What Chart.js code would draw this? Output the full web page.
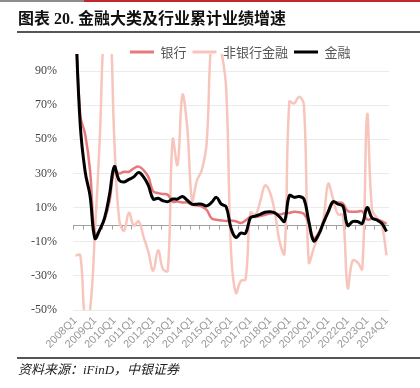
<!DOCTYPE html>
<html><head><meta charset="utf-8">
<script src="https://cdn.jsdelivr.net/npm/chart.js@4"></script>
<style>
html,body{margin:0;padding:0;background:#fff;}
#wrap{position:relative;width:420px;height:388px;overflow:hidden;background:#fff;}
#c{position:absolute;left:0;top:0;}
.bar{position:absolute;}
#title{position:absolute;left:18px;top:11px;line-height:16px;font-weight:bold;font-size:16px;font-family:"Liberation Serif","Noto Sans CJK SC",serif;color:#111;white-space:nowrap;}
#src{position:absolute;left:18px;top:363px;line-height:14px;font-size:13px;font-style:italic;font-family:"Liberation Serif","Noto Sans CJK SC",serif;color:#222;white-space:nowrap;}
</style></head>
<body>
<div id="wrap">
  <canvas id="c" width="420" height="388"></canvas>
  <div class="bar" style="left:0;top:0;width:84px;height:2px;background:#8c8c8c"></div>
  <div class="bar" style="left:84px;top:0;width:336px;height:2px;background:#c0282d"></div>
  <div id="title">图表 20. 金融大类及行业累计业绩增速</div>
  <div class="bar" style="left:17px;top:31px;width:403px;height:1.5px;background:#555"></div>
  <div class="bar" style="left:17px;top:357px;width:403px;height:1.5px;background:#555"></div>
  <div id="src">资料来源：iFinD，中银证券</div>
</div>
<script>
const labels = ["2008Q1","2008Q2","2008Q3","2008Q4","2009Q1","2009Q2","2009Q3","2009Q4",
"2010Q1","2010Q2","2010Q3","2010Q4","2011Q1","2011Q2","2011Q3","2011Q4",
"2012Q1","2012Q2","2012Q3","2012Q4","2013Q1","2013Q2","2013Q3","2013Q4",
"2014Q1","2014Q2","2014Q3","2014Q4","2015Q1","2015Q2","2015Q3","2015Q4",
"2016Q1","2016Q2","2016Q3","2016Q4","2017Q1","2017Q2","2017Q3","2017Q4",
"2018Q1","2018Q2","2018Q3","2018Q4","2019Q1","2019Q2","2019Q3","2019Q4",
"2020Q1","2020Q2","2020Q3","2020Q4","2021Q1","2021Q2","2021Q3","2021Q4",
"2022Q1","2022Q2","2022Q3","2022Q4","2023Q1","2023Q2","2023Q3","2023Q4","2024Q1"];

const bank = [125,64,53,32,-6,-3,3,13.5,
32,30,31,31,33,34,32,28,
19.5,18.5,18,17.5,13.5,13.5,13,13,
11.6,11.2,10.6,8.6,3.7,2.9,2.5,2.2,
2.5,2,1,2.5,4.5,4.5,5,5.7,
6.5,6.7,6,6.7,6.9,7.6,7.3,6.3,
1,-8,-5,1.5,7,13,13,12.5,
8,7.6,7.6,7.8,3,3.5,3,2,0.5];

const nonBank = [-18,-18,-55,-50,-5,50,120,125,
50,3,-3.5,7,-0.5,2,-7,-16,
-27,-15,-26,-27,50,35,76,57,
14,26,32,48,110,115,102,80,
-15,-40,-33,-32,7,5.7,13.5,23,
19,7.6,-10,-17,72,71,75,70,
-22,-14,-6,3,24,15,6,5.7,
-37,-21,-22,-26,64.5,9,4,0,-18];

const finance = [120,58,31,17,-8,-3,4,17.5,
34,26,25,26.5,28,30.5,28,23,
15,15.5,14,13.5,15,15,16.5,14.3,
12,12,12,11,13,16,12,10.5,
-2,-7.5,-5,-5,4,5,6,7.3,
7.6,7,4.5,2,17,16,16.5,15,
2,-9.5,-6,1,7.6,13.5,12,11,
-0.5,1.8,1.8,0.8,10,4,2.7,0.8,-4];

const yTicks = [-50,-30,-10,10,30,50,70,90];
const seriesNames = ["银行","非银行金融","金融"];

const zeroLine = {
  id:'zeroLine',
  beforeDatasetsDraw(chart){
    const {ctx, chartArea:{left,right}, scales:{x,y}} = chart;
    const y0 = Math.round(y.getPixelForValue(0)) + 0.5;
    const step = x.getPixelForValue(1) - x.getPixelForValue(0);
    ctx.save();
    ctx.strokeStyle = '#a0a0a0'; ctx.lineWidth = 1;
    ctx.beginPath(); ctx.moveTo(left,y0); ctx.lineTo(right,y0);
    for (let k=0;k<labels.length;k+=2){
      const px = Math.round(x.getPixelForValue(k) - step/2) + 0.5;
      ctx.moveTo(px,y0); ctx.lineTo(px,y0+4);
    }
    ctx.stroke(); ctx.restore();
  }
};
const legendPlace = {
  id:'legendPlace',
  afterLayout(chart){
    const L = chart.legend; if(!L || !L.lineWidths) return;
    const pad = L.options.labels.padding;
    const start = (L.left + pad + L.right - L.lineWidths[0]) / 2;
    const dx = 130 - start, dy = 39.5 - L.top;
    L.left += dx; L.right += dx; L.top += dy; L.bottom += dy;
  }
};

new Chart(document.getElementById('c'), {
  type:'line',
  data:{
    labels: labels,
    datasets:[
      {label:seriesNames[0], data:bank, borderColor:'#e6797b', backgroundColor:'#e6797b', borderWidth:2.5, pointRadius:0, tension:0.4, order:1},
      {label:seriesNames[1], data:nonBank, borderColor:'#f8c5bd', backgroundColor:'#f8c5bd', borderWidth:2.5, pointRadius:0, tension:0.4, order:2},
      {label:seriesNames[2], data:finance, borderColor:'#000000', backgroundColor:'#000000', borderWidth:3, pointRadius:0, tension:0.4, order:0}
    ]
  },
  options:{
    responsive:false, animation:false,
    layout:{padding:{top:25,right:31,bottom:0,left:0}},
    plugins:{
      tooltip:{enabled:false},
      legend:{
        position:'top',
        labels:{
          boxWidth:24, boxHeight:3, padding:6, color:'#555',
          font:{family:'"Noto Sans CJK SC"', size:13},
          sort:(a,b)=>a.datasetIndex-b.datasetIndex,
          generateLabels(chart){
            return Chart.defaults.plugins.legend.labels.generateLabels(chart).map(it=>Object.assign(it,{lineWidth:0,fillStyle:it.strokeStyle}));
          }
        }
      }
    },
    scales:{
      x:{
        offset:true,
        grid:{display:false, drawTicks:false},
        border:{display:false},
        ticks:{autoSkip:false, maxRotation:45, minRotation:45, padding:4, color:'#999',
          font:{family:'"Liberation Sans"', size:11},
          callback:(v,i)=> i%4===0 ? labels[i] : ''},
        afterFit(s){ s.height = 78; }
      },
      y:{
        min:-50, max:100,
        grid:{color:'#ebebeb', drawTicks:false},
        border:{display:false},
        afterBuildTicks(s){ s.ticks = yTicks.map(v=>({value:v})); },
        ticks:{padding:16, color:'#444', font:{family:'"Liberation Serif"', size:12}, callback:v=>v+'%'},
        afterFit(s){ s.width = 73; }
      }
    }
  },
  plugins:[zeroLine, legendPlace]
});
</script>
</body></html>
